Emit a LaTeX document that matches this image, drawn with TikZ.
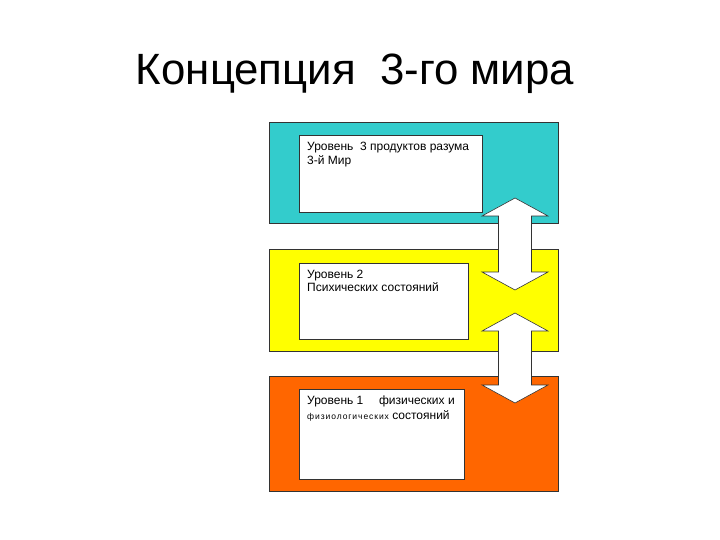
\documentclass[tikz,border=0pt]{standalone}
\usepackage{fontspec}
\setmainfont{Liberation Sans}
\usepackage{xcolor}
\usepackage{tikz}

\definecolor{lvlteal}{HTML}{33CCCC}
\definecolor{lvlyellow}{HTML}{FFFF00}
\definecolor{lvlorange}{HTML}{FF6600}

\tikzset{
    levelbox/.style={draw=black!80, line width=0.6pt, anchor=north west, inner sep=0pt},
    textbox/.style={draw=black!80, fill=white, line width=0.6pt, anchor=north west, inner sep=0pt},
    lbl/.style={anchor=base west, inner sep=0pt, font=\fontsize{12}{12}\selectfont},
    blockarrow/.style={draw=black!80, fill=white, line width=0.6pt, line join=miter}
}

\begin{document}
\begin{tikzpicture}[x=1pt, y=-1pt]
    \useasboundingbox (0,0) rectangle (720,540);

    % Title
    \node[anchor=base, inner sep=0pt, font=\fontsize{43.8}{48}\selectfont] (title) at (355,85) {Концепция \ 3-го мира};

    \foreach \name/\y/\h/\col/\iy/\iw/\ih in {lvl3/122/101/lvlteal/135/183/77, lvl2/249/102/lvlyellow/263/169/76, lvl1/376/115/lvlorange/389/165/90} {
        % Coloured level
        \node[levelbox, fill=\col, minimum width=289, minimum height=\h] (\name) at (269,\y) {};
        % White box inside the level
        \node[textbox, minimum width=\iw, minimum height=\ih] (\name in) at (299,\iy) {};
    }

    % Texts of the levels
    \node[lbl] (t3a) at (307,151) {Уровень \ 3 продуктов разума};
    \node[lbl] (t3b) at (307,165) {3-й Мир};
    \node[lbl] (t2a) at (307,278) {Уровень 2};
    \node[lbl] (t2b) at (307,291) {Психических состояний};
    \node[lbl] (t1a) at (307,404) {Уровень 1\hspace{1.3em}физических и};
    \node[lbl] (t1b) at (307,419) {{\fontsize{8.5}{9}\selectfont\addfontfeatures{LetterSpace=11}физиологических} состояний};

    % Double arrows between the levels
    \foreach \t/\b in {198/290, 313/403} {
        \draw[blockarrow] (515,\t) -- (548,\t+18) -- (531.5,\t+18) -- (531.5,\b-18) -- (548,\b-18)
            -- (515,\b) -- (482,\b-18) -- (498.5,\b-18) -- (498.5,\t+18) -- (482,\t+18) -- cycle;
    }

\end{tikzpicture}
\end{document}
